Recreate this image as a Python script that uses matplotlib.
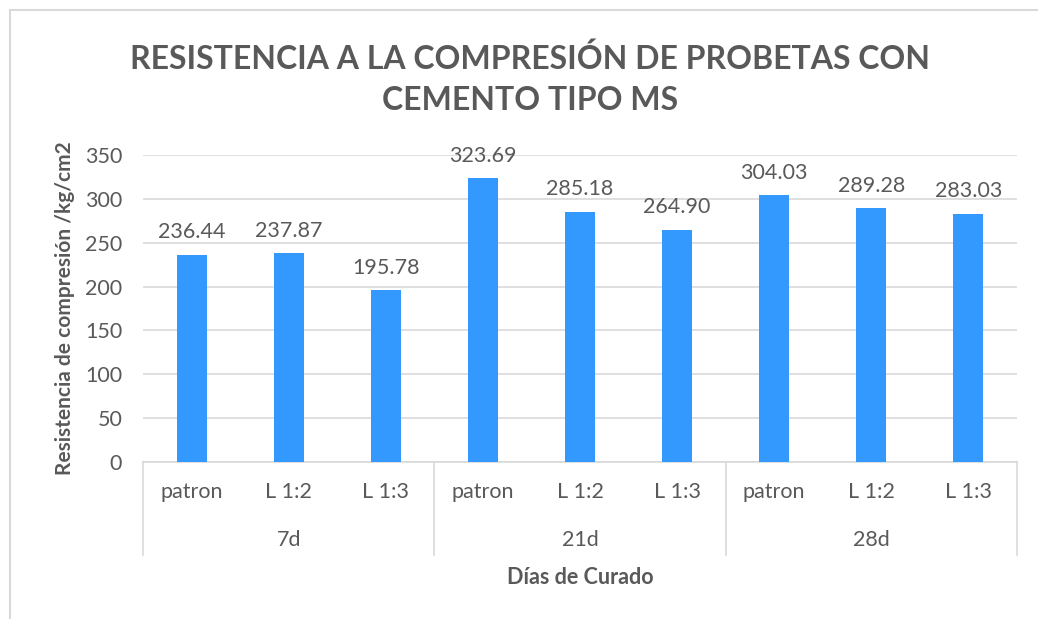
import matplotlib
matplotlib.use('Agg')
import matplotlib.pyplot as plt
from matplotlib.lines import Line2D

# data
grupos = ['7d', '21d', '28d']
mezclas = ['patron', 'L 1:2', 'L 1:3']
resistencia = [236.44, 237.87, 195.78,
               323.69, 285.18, 264.90,
               304.03, 289.28, 283.03]
y_ticks = [0, 50, 100, 150, 200, 250, 300, 350]

gris = '#595959'
linea = '#d9d9d9'
azul = '#3399ff'
plt.rcParams['font.family'] = ['Lato', 'DejaVu Sans']
fs = 15.5

fig = plt.figure(figsize=(10.38, 6.19), dpi=100)
ax = fig.add_axes([143/1038, 1-462/619, (1017-143)/1038, (462-155)/619])

x = list(range(len(resistencia)))
bars = ax.bar(x, resistencia, width=0.31, color=azul, zorder=3)
for b, v in zip(bars, resistencia):
    ax.annotate('{:.2f}'.format(v), (b.get_x()+b.get_width()/2, v),
                xytext=(0, 9), textcoords='offset points',
                ha='center', va='bottom', fontsize=fs, color=gris)

ax.set_xlim(-0.5, len(resistencia)-0.5)
ax.set_ylim(0, 350)
ax.set_yticks(y_ticks)
ax.tick_params(axis='y', length=0, labelsize=fs, labelcolor=gris, pad=15)
ax.set_xticks([])
ax.grid(axis='y', color=linea, lw=1.2, zorder=0)
for s in ['top', 'right', 'left']:
    ax.spines[s].set_visible(False)
ax.spines['bottom'].set_color(linea)
ax.spines['bottom'].set_linewidth(1.2)

# two-level category axis
trans = ax.get_xaxis_transform()
for i, xi in enumerate(x):
    ax.text(xi, -30/307, mezclas[i % 3], transform=trans, ha='center', va='center',
            fontsize=fs, color=gris)
for g, nombre in enumerate(grupos):
    ax.text(g*3+1, -78/307, nombre, transform=trans, ha='center', va='center',
            fontsize=fs, color=gris)
for g in range(len(grupos)+1):
    ax.add_line(Line2D([g*3-0.5, g*3-0.5], [0, -93/307], transform=trans,
                       color=linea, lw=1.2, clip_on=False))

ax.set_ylabel('Resistencia de compresión /kg/cm2', fontsize=15, fontweight='bold',
              color=gris)
ax.yaxis.set_label_coords(-68/874, 0.5)
fig.text(580/1038, 1-578/619, 'Días de Curado', ha='center', va='center',
         fontsize=15.5, fontweight='bold', color=gris)
fig.text(530/1038, 1-79/619, 'RESISTENCIA A LA COMPRESIÓN DE PROBETAS CON\nCEMENTO TIPO MS',
         ha='center', va='center', fontsize=23, fontweight='bold', color=gris,
         linespacing=1.5)

# chart frame
fig.add_artist(Line2D([10/1038, 10/1038], [0, 1-10/619], transform=fig.transFigure, color=linea, lw=1.5))
fig.add_artist(Line2D([10/1038, 1], [1-10/619, 1-10/619], transform=fig.transFigure, color=linea, lw=1.5))

plt.savefig('out.png', dpi=100)
plt.close()
